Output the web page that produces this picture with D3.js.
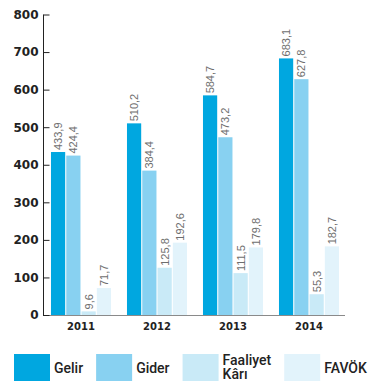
<!DOCTYPE html>
<html>
<head>
<meta charset="utf-8">
<script src="https://cdn.jsdelivr.net/npm/d3@7/dist/d3.min.js"></script>
<style>
  html, body { margin: 0; padding: 0; background: #fff; }
  svg { display: block; }
</style>
</head>
<body>
<script>
// Yıllar ve seriler (milyon TL)
const years = ["2011", "2012", "2013", "2014"];
const seriesNames = ["Gelir", "Gider", "Faaliyet Kârı", "FAVÖK"];
const gelir   = [433.9, 510.2, 584.7, 683.1];
const gider   = [424.4, 384.4, 473.2, 627.8];
const faaliyet = [9.6, 125.8, 111.5, 55.3];
const favok   = [71.7, 192.6, 179.8, 182.7];
const yTicks  = [0, 100, 200, 300, 400, 500, 600, 700, 800];
const colors  = ["#00a7e0", "#88d1f1", "#c9eaf7", "#e2f3fb"];

const seriesValues = [gelir, gider, faaliyet, favok];
const W = 373, H = 383;

const svg = d3.select("body").append("svg")
  .attr("width", W).attr("height", H);

const x0 = d3.scaleBand().domain(years).range([43, 347])
  .paddingInner(0.21).paddingOuter(0.105);
const x1 = d3.scaleBand().domain(seriesNames).range([0, x0.bandwidth()])
  .paddingInner(0.07);
const y = d3.scaleLinear().domain([0, 800]).range([315, 14.5]);

const fmt = v => d3.format(".1f")(v).replace(".", ",");

// Çubuk grupları
const groups = svg.append("g").selectAll("g")
  .data(years).join("g")
  .attr("transform", d => `translate(${x0(d)},0)`);

groups.each(function (year, yi) {
  const g = d3.select(this);
  const rows = seriesNames.map((s, si) => ({ s, si, v: seriesValues[si][yi] }));
  g.selectAll("rect").data(rows).join("rect")
    .attr("x", d => x1(d.s))
    .attr("y", d => y(d.v))
    .attr("width", x1.bandwidth())
    .attr("height", d => y(0) - y(d.v))
    .attr("fill", d => colors[d.si]);
  g.selectAll("text").data(rows).join("text")
    .attr("transform", d => `translate(${x1(d.s) + x1.bandwidth() / 2},${y(d.v) - 2}) rotate(-90)`)
    .attr("dy", "0.36em")
    .attr("text-anchor", "start")
    .attr("font-family", "'Liberation Sans', Arial, sans-serif")
    .attr("font-size", 11)
    .attr("fill", "#6e6e6e")
    .text(d => fmt(d.v));
});

// Taban çizgisi
svg.append("line")
  .attr("x1", 43).attr("x2", 345)
  .attr("y1", y(0) + 0.5).attr("y2", y(0) + 0.5)
  .attr("stroke", "#8a8a8a").attr("stroke-width", 1);

// Dikey eksen
const yAxis = d3.axisRight(y).tickValues(yTicks).tickSize(6).tickFormat(d3.format("d"));
const ya = svg.append("g").attr("transform", "translate(43.5,0)").call(yAxis);
ya.select(".domain").attr("stroke", "#222").attr("d", `M0,${y(800)}V${y(0) + 1}`);
ya.selectAll(".tick line").attr("stroke", "#222");
ya.selectAll(".tick text")
  .attr("x", -5).attr("text-anchor", "end")
  .attr("font-family", "'DejaVu Sans', sans-serif")
  .attr("font-weight", "bold")
  .attr("font-size", 12)
  .attr("fill", "#222");

// Yıl etiketleri
svg.append("g").selectAll("text").data(years).join("text")
  .attr("x", d => x0(d) + x0.bandwidth() / 2)
  .attr("y", 330)
  .attr("text-anchor", "middle")
  .attr("font-family", "'DejaVu Sans', sans-serif")
  .attr("font-weight", "bold")
  .attr("font-size", 10)
  .attr("fill", "#222")
  .text(d => d);

// Açıklama
const legend = svg.append("g");
let lx = 14;
seriesNames.forEach((name, i) => {
  const item = legend.append("g").attr("transform", `translate(${lx},354)`);
  item.append("rect").attr("width", 36).attr("height", 27).attr("fill", colors[i]);
  const lines = name === "Faaliyet Kârı" ? ["Faaliyet", "Kârı"] : [name];
  const t = item.append("text")
    .attr("font-family", "Roboto, sans-serif")
    .attr("font-weight", 500)
    .attr("font-size", 14)
    .attr("fill", "#222");
  lines.forEach((ln, k) => {
    t.append("tspan").attr("x", 40)
      .attr("y", lines.length === 1 ? 19 : 10.5 + k * 14.5)
      .text(ln);
  });
  const w = d3.max(t.selectAll("tspan").nodes(), n => n.getComputedTextLength());
  lx += 40 + w + 13;
});
</script>
</body>
</html>
